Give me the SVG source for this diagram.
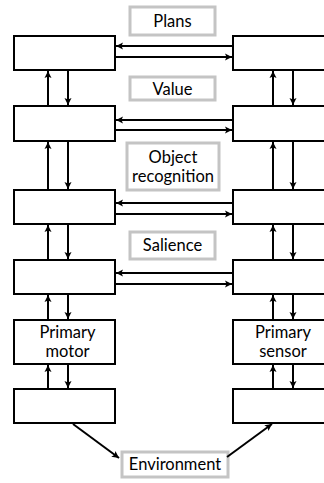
<svg xmlns="http://www.w3.org/2000/svg" width="324" height="483" viewBox="0 0 324 483">
<style>
.box{fill:#fff;stroke:#000;stroke-width:2}
.lbl{fill:#fff;stroke:#c4c4c4;stroke-width:3}
.t{font-family:Lato,"Open Sans","DejaVu Sans",sans-serif;font-size:16.5px;fill:#000;text-anchor:middle}
.c{stroke:#000;stroke-width:2;fill:none;marker-end:url(#ah)}
</style>
<defs>
<marker id="ah" markerUnits="userSpaceOnUse" markerWidth="8" markerHeight="8" refX="7" refY="4" orient="auto">
<path d="M0,0.5 L7,4 L0,7.5 L1.5,4 z" fill="#000"/>
</marker>
</defs>
<rect width="324" height="483" fill="#fff"/>
<g id="plans"><rect class="lbl" x="130" y="7" width="85" height="28"/><text class="t" x="172.5" y="27">Plans</text></g>
<g id="value"><rect class="lbl" x="130" y="77" width="85" height="23"/><text class="t" x="172.5" y="95">Value</text></g>
<g id="objrec"><rect class="lbl" x="127" y="143" width="92" height="47"/><text class="t" x="173" y="163">Object</text><text class="t" x="173" y="182">recognition</text></g>
<g id="salience"><rect class="lbl" x="130" y="232" width="85" height="27"/><text class="t" x="172.5" y="251">Salience</text></g>
<g id="environment"><rect class="lbl" x="122" y="452" width="106" height="25"/><text class="t" x="175" y="470">Environment</text></g>
<g id="L1"><rect class="box" x="14" y="36" width="101" height="34"/></g>
<g id="R1"><rect class="box" x="233" y="36" width="101" height="34"/></g>
<g id="L2"><rect class="box" x="14" y="106" width="101" height="35"/></g>
<g id="R2"><rect class="box" x="233" y="106" width="101" height="35"/></g>
<g id="L3"><rect class="box" x="14" y="190" width="101" height="34"/></g>
<g id="R3"><rect class="box" x="233" y="190" width="101" height="34"/></g>
<g id="L4"><rect class="box" x="14" y="260" width="101" height="34"/></g>
<g id="R4"><rect class="box" x="233" y="260" width="101" height="34"/></g>
<g id="L5"><rect class="box" x="14" y="320" width="101" height="44"/><text class="t" x="67.5" y="338">Primary</text><text class="t" x="67.5" y="357">motor</text></g>
<g id="R5"><rect class="box" x="233" y="320" width="101" height="44"/><text class="t" x="283" y="338">Primary</text><text class="t" x="283" y="357">sensor</text></g>
<g id="L6"><rect class="box" x="14" y="389" width="101" height="34"/></g>
<g id="R6"><rect class="box" x="233" y="389" width="101" height="34"/></g>
<g id="connectors">
<line class="c" x1="233" y1="46" x2="116" y2="46"/>
<line class="c" x1="115" y1="57" x2="232" y2="57"/>
<line class="c" x1="233" y1="120" x2="116" y2="120"/>
<line class="c" x1="115" y1="130" x2="232" y2="130"/>
<line class="c" x1="233" y1="203" x2="116" y2="203"/>
<line class="c" x1="115" y1="214" x2="232" y2="214"/>
<line class="c" x1="233" y1="273" x2="116" y2="273"/>
<line class="c" x1="115" y1="284" x2="232" y2="284"/>
<line class="c" x1="48" y1="106" x2="48" y2="71"/>
<line class="c" x1="68" y1="70" x2="68" y2="105"/>
<line class="c" x1="273" y1="106" x2="273" y2="71"/>
<line class="c" x1="293" y1="70" x2="293" y2="105"/>
<line class="c" x1="48" y1="190" x2="48" y2="142"/>
<line class="c" x1="68" y1="141" x2="68" y2="189"/>
<line class="c" x1="273" y1="190" x2="273" y2="142"/>
<line class="c" x1="293" y1="141" x2="293" y2="189"/>
<line class="c" x1="48" y1="260" x2="48" y2="225"/>
<line class="c" x1="68" y1="224" x2="68" y2="259"/>
<line class="c" x1="273" y1="260" x2="273" y2="225"/>
<line class="c" x1="293" y1="224" x2="293" y2="259"/>
<line class="c" x1="48" y1="320" x2="48" y2="295"/>
<line class="c" x1="68" y1="294" x2="68" y2="319"/>
<line class="c" x1="273" y1="320" x2="273" y2="295"/>
<line class="c" x1="293" y1="294" x2="293" y2="319"/>
<line class="c" x1="48" y1="389" x2="48" y2="365"/>
<line class="c" x1="68" y1="364" x2="68" y2="388"/>
<line class="c" x1="273" y1="389" x2="273" y2="365"/>
<line class="c" x1="293" y1="364" x2="293" y2="388"/>
<line class="c" x1="73" y1="424" x2="119" y2="458"/>
<line class="c" x1="227" y1="457" x2="272" y2="424"/>
</g>
</svg>
